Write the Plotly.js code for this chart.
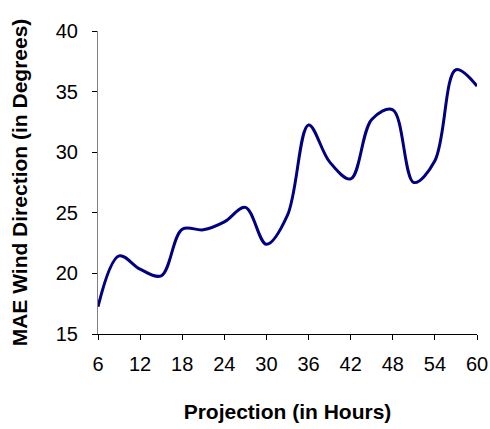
<!DOCTYPE html>
<html>
<head>
<meta charset="utf-8">
<script src="https://cdn.plot.ly/plotly-3.0.1.min.js"></script>
<style>html,body{margin:0;padding:0;background:#fff;}#chart{width:490px;height:429px;}</style>
</head>
<body>
<div id="chart"></div>
<script>
var hours = [6, 9, 12, 15, 18, 21, 24, 27, 30, 33, 36, 39, 42, 45, 48, 51, 54, 57, 60];
var maeWindDirection = [17.25, 21.45, 20.35, 19.8, 23.65, 23.6, 24.25, 25.45, 22.4, 24.8, 32.25, 29.2, 27.8, 32.7, 33.5, 27.5, 29.3, 36.8, 35.45];
var xTicks = [6, 12, 18, 24, 30, 36, 42, 48, 54, 60];
var yTicks = [15, 20, 25, 30, 35, 40];

var trace = {
  x: hours,
  y: maeWindDirection,
  type: 'scatter',
  mode: 'lines',
  line: {color: '#000080', width: 3, shape: 'spline', smoothing: 1},
  hoverinfo: 'x+y'
};

var layout = {
  width: 490,
  height: 429,
  margin: {l: 98, r: 13, t: 31, b: 95},
  paper_bgcolor: '#ffffff',
  plot_bgcolor: '#ffffff',
  showlegend: false,
  font: {family: 'Arial, "Liberation Sans", sans-serif', color: '#000000', size: 20},
  xaxis: {
    range: [6, 60],
    tickmode: 'array',
    tickvals: xTicks,
    ticktext: xTicks.map(String),
    ticks: 'outside',
    ticklen: 5,
    tickcolor: '#000000',
    tickwidth: 1,
    ticklabelstandoff: 7,
    showline: true,
    linecolor: '#000000',
    linewidth: 1,
    showgrid: false,
    zeroline: false,
    tickfont: {size: 20},
    title: {text: '<b>Projection (in Hours)</b>', font: {size: 21}, standoff: 30}
  },
  yaxis: {
    range: [15, 40],
    tickmode: 'array',
    tickvals: yTicks,
    ticktext: yTicks.map(String),
    ticks: 'outside',
    ticklen: 5,
    tickcolor: '#000000',
    tickwidth: 1,
    ticklabelstandoff: 10,
    showline: true,
    linecolor: '#808080',
    linewidth: 1,
    showgrid: false,
    zeroline: false,
    tickfont: {size: 20},
    title: {text: '<b>MAE Wind Direction (in Degrees)</b>', font: {size: 21}, standoff: 22}
  }
};

Plotly.newPlot('chart', [trace], layout, {staticPlot: true, displayModeBar: false});
</script>
</body>
</html>
